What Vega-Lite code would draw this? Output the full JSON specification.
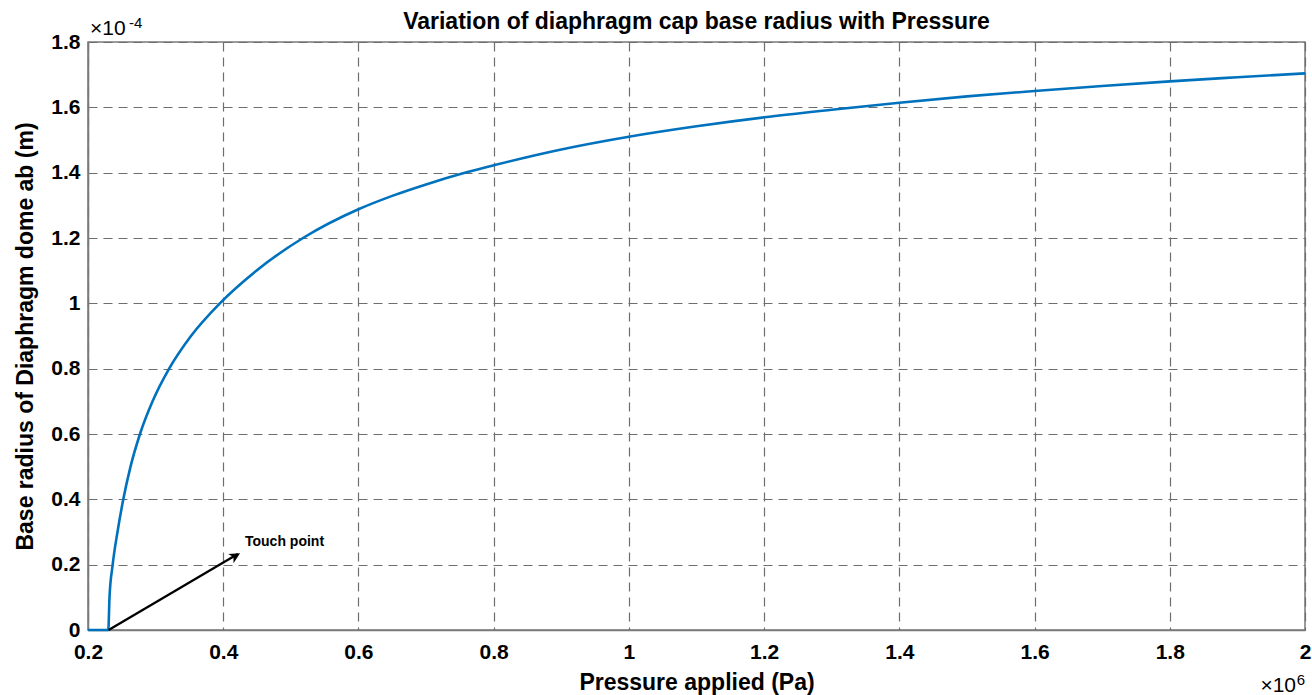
{
  "$schema": "https://vega.github.io/schema/vega-lite/v6.json",
  "width": 1217,
  "height": 588,
  "autosize": {"type": "none"},
  "padding": {"left": 88, "top": 42, "right": 7, "bottom": 65},
  "background": "white",
  "title": {
    "text": "Variation of diaphragm cap base radius with Pressure",
    "font": "Liberation Sans",
    "fontSize": 23,
    "fontWeight": "bold",
    "color": "#000000",
    "anchor": "middle",
    "offset": -18
  },
  "datasets": {
    "curve": [
      {"pressure": 0.2, "radius": 0},
      {"pressure": 0.23, "radius": 0},
      {"pressure": 0.2318, "radius": 0.1},
      {"pressure": 0.2365, "radius": 0.2},
      {"pressure": 0.2436, "radius": 0.3},
      {"pressure": 0.2522, "radius": 0.4},
      {"pressure": 0.2629, "radius": 0.5},
      {"pressure": 0.2769, "radius": 0.6},
      {"pressure": 0.2955, "radius": 0.7},
      {"pressure": 0.32, "radius": 0.8},
      {"pressure": 0.3523, "radius": 0.9},
      {"pressure": 0.395, "radius": 1.0},
      {"pressure": 0.449, "radius": 1.1},
      {"pressure": 0.518, "radius": 1.2},
      {"pressure": 0.6, "radius": 1.288},
      {"pressure": 0.65, "radius": 1.329},
      {"pressure": 0.7, "radius": 1.364},
      {"pressure": 0.76, "radius": 1.401},
      {"pressure": 0.8, "radius": 1.4225},
      {"pressure": 0.9, "radius": 1.471},
      {"pressure": 1.0, "radius": 1.51},
      {"pressure": 1.1, "radius": 1.542},
      {"pressure": 1.2, "radius": 1.5694},
      {"pressure": 1.3, "radius": 1.5925},
      {"pressure": 1.4, "radius": 1.614},
      {"pressure": 1.5, "radius": 1.6335},
      {"pressure": 1.6, "radius": 1.65},
      {"pressure": 1.7, "radius": 1.6655},
      {"pressure": 1.8, "radius": 1.6796},
      {"pressure": 1.9, "radius": 1.692},
      {"pressure": 2.0, "radius": 1.704}
    ],
    "arrow": [
      {"pressure": 0.2305, "radius": 0.0},
      {"pressure": 0.4215, "radius": 0.233}
    ],
    "arrowhead": [
      {"pressure": 0.4249, "radius": 0.235}
    ],
    "note": [
      {"pressure": 0.4322, "radius": 0.27, "label": "Touch point"}
    ],
    "yexp": [
      {"pressure": 0.2, "radius": 1.8, "base": "×10", "power": "-4"}
    ],
    "xexp": [
      {"pressure": 2.0, "radius": 0, "base": "×10", "power": "6"}
    ]
  },
  "layer": [
    {
      "data": {"name": "curve"},
      "mark": {"type": "line", "color": "#0072BD", "strokeWidth": 2.6, "interpolate": "monotone", "clip": false},
      "encoding": {
        "x": {
          "field": "pressure",
          "type": "quantitative",
          "scale": {"domain": [0.2, 2], "nice": false, "zero": false},
          "axis": {
            "title": "Pressure applied (Pa)",
            "values": [0.2, 0.4, 0.6, 0.8, 1, 1.2, 1.4, 1.6, 1.8, 2],
            "format": "~g",
            "labelPadding": 11,
            "titlePadding": 9
          }
        },
        "y": {
          "field": "radius",
          "type": "quantitative",
          "scale": {"domain": [0, 1.8], "nice": false},
          "axis": {
            "title": "Base radius of Diaphragm dome ab (m)",
            "values": [0, 0.2, 0.4, 0.6, 0.8, 1, 1.2, 1.4, 1.6, 1.8],
            "format": "~g",
            "labelPadding": 8,
            "titlePadding": 13
          }
        }
      }
    },
    {
      "data": {"name": "arrow"},
      "mark": {"type": "line", "color": "#000000", "strokeWidth": 2.3},
      "encoding": {
        "x": {"field": "pressure", "type": "quantitative"},
        "y": {"field": "radius", "type": "quantitative"}
      }
    },
    {
      "data": {"name": "arrowhead"},
      "mark": {
        "type": "point",
        "shape": "M0,0 L0.5,1 L0,0.72 L-0.5,1 Z",
        "filled": true,
        "color": "#000000",
        "opacity": 1,
        "size": 450,
        "angle": 60
      },
      "encoding": {
        "x": {"field": "pressure", "type": "quantitative"},
        "y": {"field": "radius", "type": "quantitative"}
      }
    },
    {
      "data": {"name": "note"},
      "mark": {"type": "text", "align": "left", "baseline": "middle", "font": "Liberation Sans", "fontSize": 14, "fontWeight": "bold", "color": "#000000"},
      "encoding": {
        "x": {"field": "pressure", "type": "quantitative"},
        "y": {"field": "radius", "type": "quantitative"},
        "text": {"field": "label"}
      }
    },
    {
      "data": {"name": "yexp"},
      "mark": {"type": "text", "align": "left", "baseline": "alphabetic", "font": "Liberation Sans", "fontSize": 21, "color": "#000000", "dx": 2, "dy": -7},
      "encoding": {
        "x": {"field": "pressure", "type": "quantitative"},
        "y": {"field": "radius", "type": "quantitative"},
        "text": {"field": "base"}
      }
    },
    {
      "data": {"name": "yexp"},
      "mark": {"type": "text", "align": "left", "baseline": "alphabetic", "font": "Liberation Sans", "fontSize": 15, "color": "#000000", "dx": 41, "dy": -14},
      "encoding": {
        "x": {"field": "pressure", "type": "quantitative"},
        "y": {"field": "radius", "type": "quantitative"},
        "text": {"field": "power"}
      }
    },
    {
      "data": {"name": "xexp"},
      "mark": {"type": "text", "align": "right", "baseline": "alphabetic", "font": "Liberation Sans", "fontSize": 21, "color": "#000000", "dx": -9, "dy": 62},
      "encoding": {
        "x": {"field": "pressure", "type": "quantitative"},
        "y": {"field": "radius", "type": "quantitative"},
        "text": {"field": "base"}
      }
    },
    {
      "data": {"name": "xexp"},
      "mark": {"type": "text", "align": "right", "baseline": "alphabetic", "font": "Liberation Sans", "fontSize": 15, "color": "#000000", "dx": 0, "dy": 55},
      "encoding": {
        "x": {"field": "pressure", "type": "quantitative"},
        "y": {"field": "radius", "type": "quantitative"},
        "text": {"field": "power"}
      }
    }
  ],
  "config": {
    "view": {"stroke": "#7a7a7a", "strokeWidth": 1.5},
    "axis": {
      "labelFont": "Liberation Sans",
      "labelFontSize": 21,
      "labelFontWeight": "bold",
      "labelColor": "#000000",
      "labelFlush": false,
      "titleFont": "Liberation Sans",
      "titleFontSize": 23,
      "titleFontWeight": "bold",
      "titleColor": "#000000",
      "ticks": false,
      "domain": true,
      "domainColor": "#7a7a7a",
      "domainWidth": 1.5,
      "grid": true,
      "gridColor": "#6e6e6e",
      "gridDash": [9, 6],
      "gridWidth": 1.2,
      "gridOpacity": 1,
      "labelOverlap": false
    }
  }
}
